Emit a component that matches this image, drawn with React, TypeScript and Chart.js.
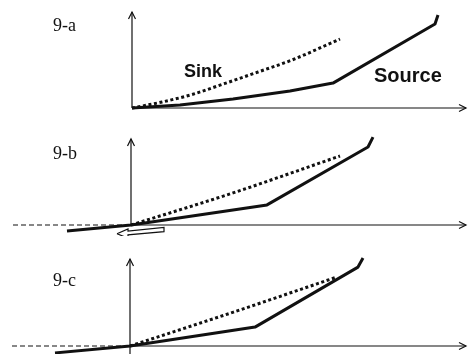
import React, { useEffect, useRef } from "react";
import { Chart, registerables } from "chart.js";

Chart.register(...registerables);

// ---- data (abstract units: x = output, y = current) ----
const PANEL_LABELS = ["9-a", "9-b", "9-c"];
const SERIES_NAMES = ["Source", "Sink"];

const A_SOURCE_X = [0, 0.96, 2.02, 3.16, 4.02, 6.06, 6.12];
const A_SOURCE_Y = [0, 0.1, 0.3, 0.57, 0.83, 2.8, 3.1];
const A_SINK_X = [0, 0.6, 1.2, 1.86, 2.52, 3.2, 4.16];
const A_SINK_Y = [0, 0.2, 0.45, 0.82, 1.2, 1.6, 2.3];

const B_SOURCE_X = [-1.28, 0, 2.72, 4.74, 4.84];
const B_SOURCE_Y = [-0.2, 0, 0.67, 2.6, 2.93];
const B_SINK_X = [0, 2.04, 4.18];
const B_SINK_Y = [0, 1.07, 2.3];
// hollow arrow pointing to the left below the origin of panel b
const B_ARROW_X = [-0.28, -0.06, -0.06, 0.66, 0.66, -0.06, -0.06, -0.28];
const B_ARROW_Y = [-0.29, -0.13, -0.2, -0.08, -0.22, -0.33, -0.44, -0.29];

const C_SOURCE_X = [-1.5, 0, 2.5, 4.56, 4.66];
const C_SOURCE_Y = [-0.23, 0, 0.63, 2.63, 2.93];
const C_SINK_X = [0, 2.07, 4.14];
const C_SINK_Y = [0, 1.13, 2.3];

const zip = (xs: number[], ys: number[]) => xs.map((x, i) => ({ x, y: ys[i] }));

// ---- layout ----
const W = 468;
const PANEL_H = 118;
const UX = 50; // px per x unit
const UY = 30; // px per y unit

type Panel = {
  ox: number;
  oy: number;
  source: { x: number; y: number }[];
  sink: { x: number; y: number }[];
  arrow?: { x: number; y: number }[];
  axis: { yTop: number; yBottom: number; xRight: number; dashLeft: number | null };
  texts: { text: string; x: number; y: number; font: string }[];
};

const SERIF = '18px "Liberation Serif", "DejaVu Serif", serif';

const PANELS: Panel[] = [
  {
    ox: 132,
    oy: 108,
    source: zip(A_SOURCE_X, A_SOURCE_Y),
    sink: zip(A_SINK_X, A_SINK_Y),
    axis: { yTop: 3.2, yBottom: 0, xRight: 6.68, dashLeft: null },
    texts: [
      { text: PANEL_LABELS[0], x: 53, y: 31, font: SERIF },
      { text: SERIES_NAMES[1], x: 184, y: 77, font: 'bold 18px "Liberation Sans", Arial, sans-serif' },
      { text: SERIES_NAMES[0], x: 374, y: 82, font: 'bold 20px "Liberation Sans", Arial, sans-serif' },
    ],
  },
  {
    ox: 131,
    oy: 107,
    source: zip(B_SOURCE_X, B_SOURCE_Y),
    sink: zip(B_SINK_X, B_SINK_Y),
    arrow: zip(B_ARROW_X, B_ARROW_Y),
    axis: { yTop: 2.87, yBottom: 0, xRight: 6.7, dashLeft: -2.36 },
    texts: [{ text: PANEL_LABELS[1], x: 53, y: 41, font: SERIF }],
  },
  {
    ox: 130,
    oy: 110,
    source: zip(C_SOURCE_X, C_SOURCE_Y),
    sink: zip(C_SINK_X, C_SINK_Y),
    axis: { yTop: 2.9, yBottom: -0.27, xRight: 6.72, dashLeft: -2.36 },
    texts: [{ text: PANEL_LABELS[2], x: 53, y: 50, font: SERIF }],
  },
];

const INK = "#111";

const axesPlugin = {
  id: "schematicAxes",
  beforeDatasetsDraw(chart: any, _args: any, opts: any) {
    const { ctx } = chart;
    const xs = chart.scales.x;
    const ys = chart.scales.y;
    const a = opts.axis;
    const px = (v: number) => xs.getPixelForValue(v);
    const py = (v: number) => ys.getPixelForValue(v);
    ctx.save();
    ctx.strokeStyle = INK;
    ctx.lineWidth = 1.2;
    ctx.lineCap = "butt";
    // y axis
    const x0 = px(0);
    const yt = py(a.yTop);
    ctx.beginPath();
    ctx.moveTo(x0, py(a.yBottom));
    ctx.lineTo(x0, yt);
    ctx.stroke();
    ctx.beginPath();
    ctx.moveTo(x0 - 3.5, yt + 7);
    ctx.lineTo(x0, yt);
    ctx.lineTo(x0 + 3.5, yt + 7);
    ctx.stroke();
    // x axis
    const y0 = py(0);
    const xr = px(a.xRight);
    ctx.beginPath();
    ctx.moveTo(x0, y0);
    ctx.lineTo(xr, y0);
    ctx.stroke();
    ctx.beginPath();
    ctx.moveTo(xr - 7, y0 - 3.5);
    ctx.lineTo(xr, y0);
    ctx.lineTo(xr - 7, y0 + 3.5);
    ctx.stroke();
    if (a.dashLeft !== null) {
      ctx.setLineDash([5, 3]);
      ctx.beginPath();
      ctx.moveTo(px(a.dashLeft), y0);
      ctx.lineTo(x0, y0);
      ctx.stroke();
      ctx.setLineDash([]);
    }
    ctx.restore();
  },
  afterDraw(chart: any, _args: any, opts: any) {
    const { ctx } = chart;
    ctx.save();
    ctx.fillStyle = INK;
    ctx.textBaseline = "alphabetic";
    ctx.textAlign = "left";
    for (const t of opts.texts) {
      ctx.font = t.font;
      ctx.fillText(t.text, t.x, t.y);
    }
    ctx.restore();
  },
};

function PanelChart({ panel }: { panel: Panel }) {
  const ref = useRef<HTMLCanvasElement>(null);
  useEffect(() => {
    if (!ref.current) return;
    const datasets: any[] = [
      {
        label: SERIES_NAMES[0],
        data: panel.source,
        showLine: true,
        borderColor: INK,
        borderWidth: 3,
        pointRadius: 0,
        borderJoinStyle: "round",
        clip: false,
        order: 1,
      },
      {
        label: SERIES_NAMES[1],
        data: panel.sink,
        showLine: true,
        borderColor: INK,
        borderWidth: 3,
        borderDash: [3, 2.6],
        borderCapStyle: "butt",
        pointRadius: 0,
        cubicInterpolationMode: "monotone",
        tension: 0.4,
        clip: false,
        order: 2,
      },
    ];
    if (panel.arrow) {
      datasets.push({
        label: "shift",
        data: panel.arrow,
        showLine: true,
        borderColor: INK,
        borderWidth: 1.2,
        backgroundColor: "#fff",
        fill: true,
        pointRadius: 0,
        clip: false,
        order: 10,
      });
    }
    const chart = new Chart(ref.current, {
      type: "scatter",
      data: { datasets },
      options: {
        animation: false,
        responsive: false,
        devicePixelRatio: 1,
        layout: { padding: 0 },
        events: [],
        scales: {
          x: { type: "linear", display: false, min: -panel.ox / UX, max: (W - panel.ox) / UX },
          y: { type: "linear", display: false, min: -(PANEL_H - panel.oy) / UY, max: panel.oy / UY },
        },
        plugins: {
          legend: { display: false },
          tooltip: { enabled: false },
          schematicAxes: { axis: panel.axis, texts: panel.texts },
        } as any,
      },
      plugins: [axesPlugin],
    });
    return () => chart.destroy();
  }, [panel]);
  return <canvas ref={ref} width={W} height={PANEL_H} style={{ display: "block", width: W, height: PANEL_H }} />;
}

export default function App() {
  return (
    <div style={{ position: "fixed", left: 0, top: 0, width: W, height: PANEL_H * 3, background: "#fff" }}>
      {PANELS.map((p, i) => (
        <PanelChart key={i} panel={p} />
      ))}
    </div>
  );
}
